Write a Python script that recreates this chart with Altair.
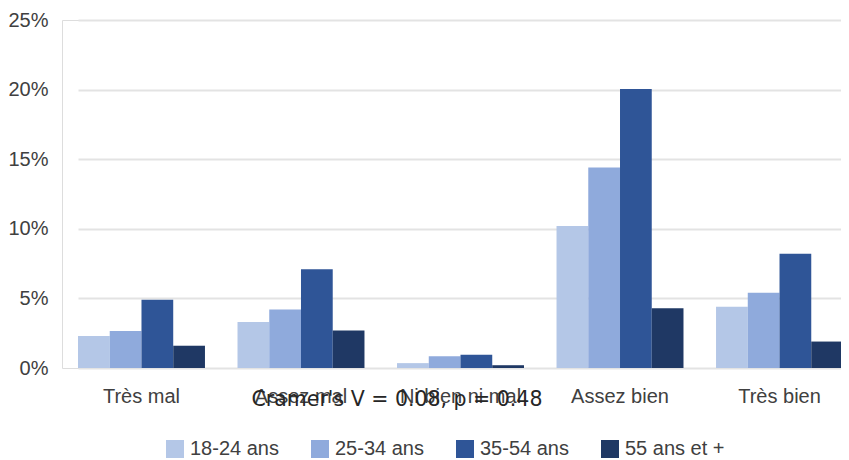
import altair as alt
import pandas as pd

categories = ["Très mal", "Assez mal", "Ni bien ni mal", "Assez bien", "Très bien"]
age_groups = ["18-24 ans", "25-34 ans", "35-54 ans", "55 ans et +"]
colors = ["#b4c7e7", "#8faadc", "#2f5597", "#1f3864"]

# percentage of respondents per category, one list per age group
v_18_24 = [0.023, 0.033, 0.0035, 0.102, 0.044]
v_25_34 = [0.0265, 0.042, 0.0085, 0.144, 0.054]
v_35_54 = [0.049, 0.071, 0.0095, 0.2005, 0.082]
v_55 = [0.016, 0.027, 0.002, 0.043, 0.019]

annotation = "Cramer's V = 0.08, p = 0.48"
y_ticks = [0, 0.05, 0.10, 0.15, 0.20, 0.25]

rows = []
for grp, vals in zip(age_groups, [v_18_24, v_25_34, v_35_54, v_55]):
    for cat, v in zip(categories, vals):
        rows.append({"categorie": cat, "age": grp, "pct": v})
df = pd.DataFrame(rows)

FONT = "Liberation Sans"

bars = alt.Chart(df).mark_bar().encode(
    x=alt.X(
        "categorie:N",
        sort=categories,
        title=None,
        scale=alt.Scale(range=[16, 781], paddingInner=0.204, paddingOuter=0),
        axis=alt.Axis(
            labelAngle=0, domain=False, ticks=False, grid=False,
            labelFont=FONT, labelFontSize=20, labelColor="#404040",
            labelPadding=18, labelBaseline="top"
        ),
    ),
    xOffset=alt.XOffset("age:N", sort=age_groups),
    y=alt.Y(
        "pct:Q",
        title=None,
        scale=alt.Scale(domain=[0, 0.25], nice=False),
        axis=alt.Axis(
            values=y_ticks, format=".0%", domain=False, ticks=False,
            gridColor="#e3e3e3", gridWidth=2,
            labelFont=FONT, labelFontSize=20, labelColor="#404040",
            labelPadding=14
        ),
    ),
    color=alt.Color(
        "age:N",
        sort=age_groups,
        scale=alt.Scale(domain=age_groups, range=colors),
        legend=alt.Legend(
            title=None, orient="none", direction="horizontal",
            legendX=103, legendY=419, padding=0,
            symbolType="square", symbolSize=324, symbolStrokeWidth=0,
            labelFont=FONT, labelFontSize=20, labelColor="#404040",
            labelOffset=5, columnPadding=31
        ),
    ),
)

text = alt.Chart(pd.DataFrame({"t": [annotation]})).mark_text(
    font="DejaVu Sans", fontSize=20.5, color="#262626",
    align="center", baseline="middle"
).encode(
    x=alt.value(335),
    y=alt.value(380),
    text="t:N",
)

chart = alt.layer(bars, text).properties(
    width=779,
    height=348,
    padding={"left": 54, "top": 12, "right": 0, "bottom": 90},
    autosize=alt.AutoSizeParams(type="none"),
).configure_view(stroke=None).configure(background="white")

chart.save("out.html", embed_options={"renderer": "svg", "actions": False})
